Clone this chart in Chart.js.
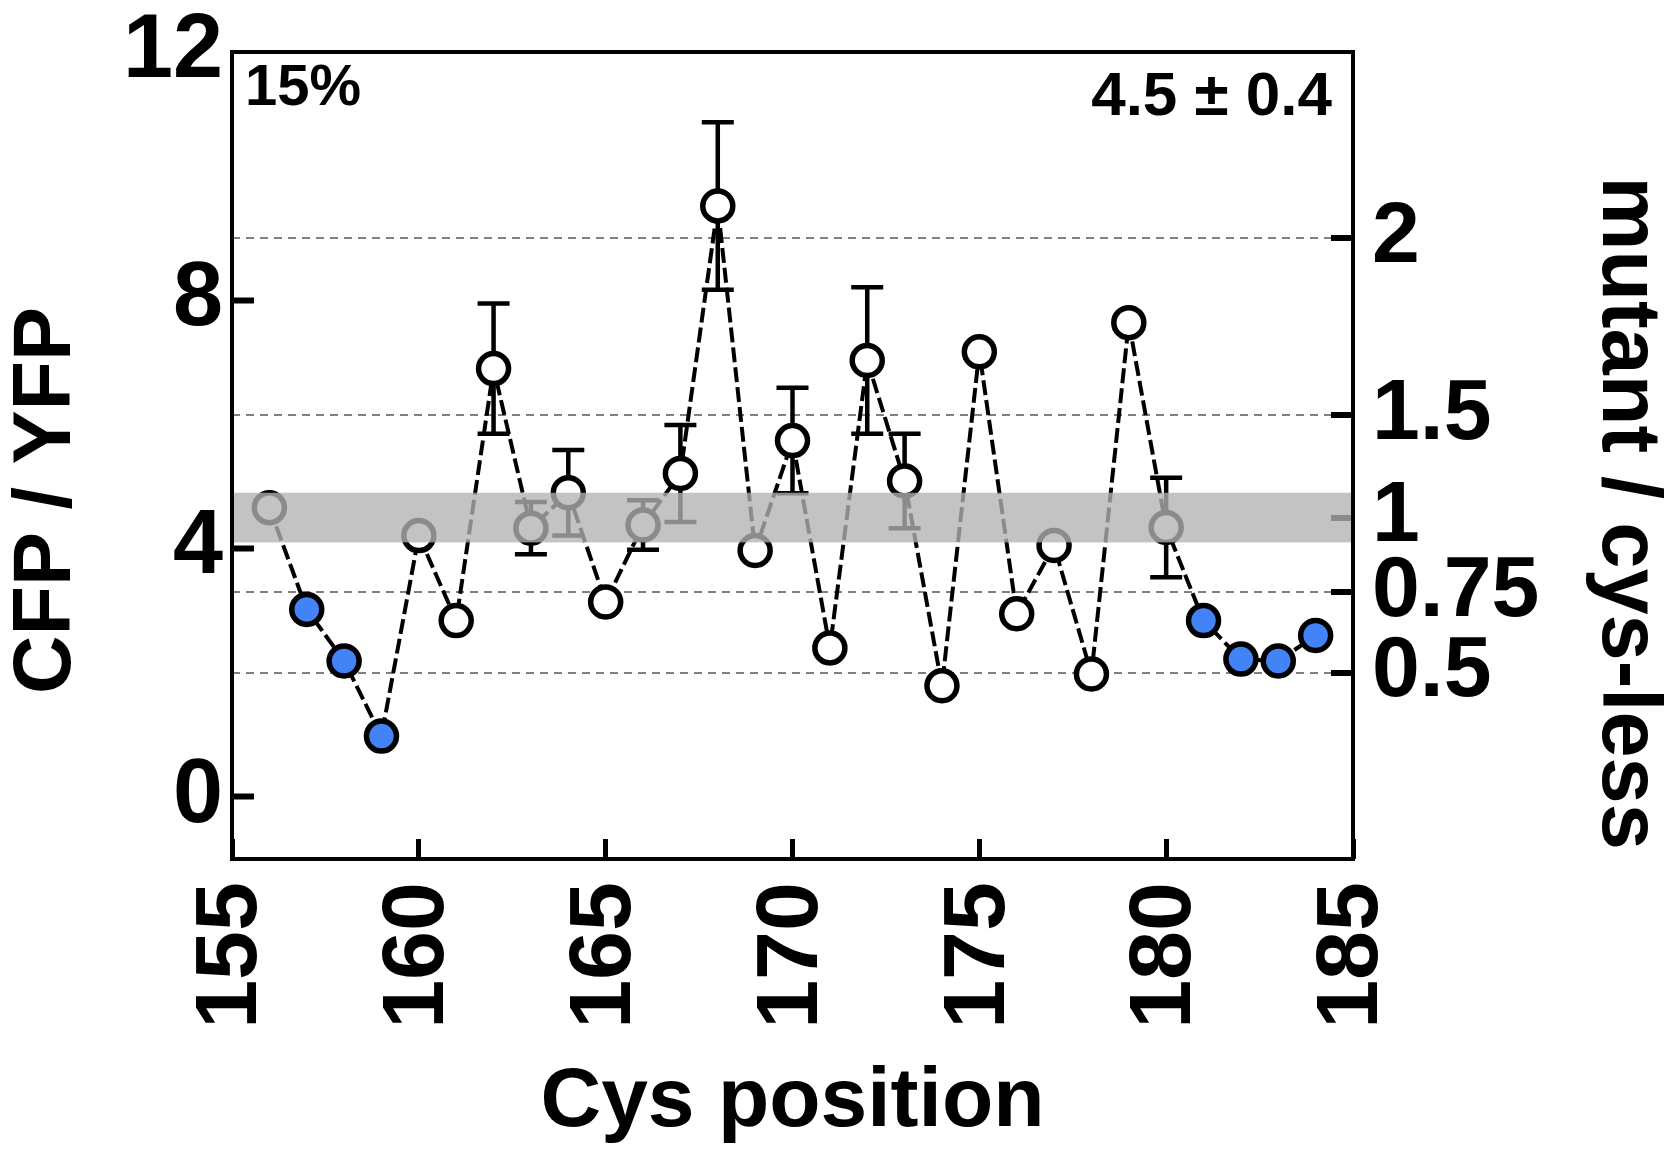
<!DOCTYPE html>
<html>
<head>
<meta charset="utf-8">
<script src="https://cdn.jsdelivr.net/npm/chart.js@4/dist/chart.umd.min.js"></script>
<style>
  html, body { margin: 0; padding: 0; background: #fff; }
  #wrap { width: 1667px; height: 1155px; }
</style>
</head>
<body>
<div id="wrap"><canvas id="scanChart" width="1667" height="1155"></canvas></div>
<script>
// Cys scan data
var positions = [156, 157, 158, 159, 160, 161, 162, 163, 164, 165, 166, 167, 168, 169, 170,
                 171, 172, 173, 174, 175, 176, 177, 178, 179, 180, 181, 182, 183, 184];
var cfpYfp    = [4.66, 3.02, 2.19, 0.98, 4.21, 2.84, 6.90, 4.33, 4.90, 3.14, 4.38, 5.21, 9.52, 3.97, 5.74,
                 2.40, 7.03, 5.09, 1.79, 7.17, 2.95, 4.05, 1.98, 7.64, 4.34, 2.84, 2.22, 2.19, 2.60];
var errors    = [null, null, null, null, null, null, 1.05, 0.42, 0.69, null, 0.40, 0.78, 1.35, null, 0.85,
                 null, 1.18, 0.76, null, null, null, null, null, null, 0.80, null, null, null, null];
var bluePositions = [157, 158, 159, 181, 182, 183, 184];

var leftTicks = [0, 4, 8, 12];
var xTicks = [155, 160, 165, 170, 175, 180, 185];
// right axis ticks sit at these CFP/YFP values
var rightTickValues = [9.0, 6.15, 4.5, 3.3, 2.0];
var rightTickLabels = ['2', '1.5', '1', '0.75', '0.5'];

var bandMean = 4.5;
var bandSd = 0.4;
var percentLabel = '15%';

var FONT = '"Liberation Sans", Arial, Helvetica, sans-serif';
var BLUE = '#4283f8';

var points = positions.map(function (p, i) { return { x: p, y: cfpYfp[i] }; });
var pointColors = positions.map(function (p) {
  return bluePositions.indexOf(p) >= 0 ? BLUE : '#ffffff';
});

function noPad(s) {
  s.paddingTop = 0; s.paddingBottom = 0; s.paddingLeft = 0; s.paddingRight = 0;
}

var errorBars = {
  id: 'errorBars',
  beforeDatasetsDraw: function (chart) {
    var ctx = chart.ctx, xs = chart.scales.x, ys = chart.scales.y;
    ctx.save();
    ctx.strokeStyle = '#000';
    ctx.lineWidth = 4.5;
    ctx.setLineDash([]);
    for (var i = 0; i < positions.length; i++) {
      if (errors[i] == null) continue;
      var x = xs.getPixelForValue(positions[i]);
      var yTop = ys.getPixelForValue(cfpYfp[i] + errors[i]);
      var yBot = ys.getPixelForValue(cfpYfp[i] - errors[i]);
      ctx.beginPath();
      ctx.moveTo(x, yTop); ctx.lineTo(x, yBot);
      ctx.moveTo(x - 16, yTop); ctx.lineTo(x + 16, yTop);
      ctx.moveTo(x - 16, yBot); ctx.lineTo(x + 16, yBot);
      ctx.stroke();
    }
    ctx.restore();
  }
};

var bandAndFrame = {
  id: 'bandAndFrame',
  afterDatasetsDraw: function (chart) {
    var ctx = chart.ctx, a = chart.chartArea, ys = chart.scales.y;
    var y1 = ys.getPixelForValue(bandMean + bandSd);
    var y2 = ys.getPixelForValue(bandMean - bandSd);
    ctx.save();
    ctx.fillStyle = 'rgba(178,178,178,0.78)';
    ctx.fillRect(a.left, y1, a.right - a.left, y2 - y1);
    ctx.strokeStyle = '#000';
    ctx.lineWidth = 4;
    ctx.strokeRect(a.left, a.top, a.right - a.left, a.bottom - a.top);
    ctx.restore();
  },
  afterDraw: function (chart) {
    var ctx = chart.ctx, a = chart.chartArea;
    ctx.save();
    ctx.fillStyle = '#000';
    ctx.font = 'bold 58px ' + FONT;
    ctx.textBaseline = 'alphabetic';
    ctx.textAlign = 'left';
    ctx.fillText(percentLabel, a.left + 13, a.top + 53);
    ctx.font = 'bold 62px ' + FONT;
    ctx.textAlign = 'right';
    ctx.fillText(bandMean + ' \u00b1 ' + bandSd, a.right - 21, a.top + 63);
    ctx.restore();
  }
};

new Chart(document.getElementById('scanChart').getContext('2d'), {
  type: 'line',
  data: {
    datasets: [{
      data: points,
      borderColor: '#000',
      borderWidth: 4,
      borderDash: [15, 5],
      tension: 0,
      fill: false,
      pointRadius: 15,
      pointHoverRadius: 15,
      pointBorderWidth: 5.5,
      pointBorderColor: '#000',
      pointBackgroundColor: pointColors
    }]
  },
  options: {
    responsive: false,
    animation: false,
    devicePixelRatio: 1,
    layout: { padding: { top: 52, left: 0, right: 0, bottom: 0 } },
    plugins: { legend: { display: false }, tooltip: { enabled: false } },
    scales: {
      x: {
        type: 'linear',
        min: 155,
        max: 185,
        afterBuildTicks: function (s) { s.ticks = xTicks.map(function (v) { return { value: v }; }); },
        afterFit: function (s) { s.height = 1155 - 859; noPad(s); },
        border: { display: false },
        grid: { drawOnChartArea: false, drawTicks: true, tickLength: -20, tickWidth: 5, tickColor: '#000' },
        ticks: {
          autoSkip: false, minRotation: 90, maxRotation: 90, padding: 43,
          color: '#000', font: { family: FONT, size: 88, weight: 'bold' }
        },
        title: {
          display: true, text: 'Cys position', color: '#000',
          font: { family: FONT, size: 84, weight: 'bold', lineHeight: 1 },
          padding: { top: 0, bottom: 10 }
        }
      },
      y: {
        type: 'linear',
        position: 'left',
        min: -1,
        max: 12,
        afterBuildTicks: function (s) { s.ticks = leftTicks.map(function (v) { return { value: v }; }); },
        afterFit: function (s) { s.width = 232; noPad(s); },
        border: { display: false },
        grid: {
          drawOnChartArea: false, drawTicks: true, tickLength: -22, tickWidth: 6,
          tickColor: function (c) { return c.tick && c.tick.value === 12 ? 'rgba(0,0,0,0)' : '#000'; }
        },
        ticks: { padding: 31, color: '#000', font: { family: FONT, size: 90, weight: 'bold' } },
        title: {
          display: true, text: 'CFP / YFP    ', color: '#000',
          font: { family: FONT, size: 81, weight: 'bold', lineHeight: 1 },
          padding: { top: 7, bottom: 0 }
        }
      },
      y2: {
        type: 'linear',
        position: 'right',
        min: -1,
        max: 12,
        afterBuildTicks: function (s) { s.ticks = rightTickValues.map(function (v) { return { value: v }; }); },
        afterFit: function (s) { s.width = 1667 - 1353; noPad(s); },
        border: { display: false, dash: [8, 6] },
        grid: {
          drawOnChartArea: true,
          color: function (c) { return c.tick && c.tick.value === bandMean ? 'rgba(0,0,0,0)' : '#808080'; },
          lineWidth: 2,
          drawTicks: true, tickLength: -22, tickWidth: 6, tickColor: '#000', tickBorderDash: []
        },
        ticks: {
          padding: 41, color: '#000', font: { family: FONT, size: 86, weight: 'bold' },
          callback: function (v, i) { return rightTickLabels[i]; }
        },
        title: {
          display: true, text: '     mutant / cys-less', color: '#000',
          font: { family: FONT, size: 83, weight: 'bold', lineHeight: 1 },
          padding: { top: 0, bottom: 0 }
        }
      }
    }
  },
  plugins: [errorBars, bandAndFrame]
});
</script>
</body>
</html>
